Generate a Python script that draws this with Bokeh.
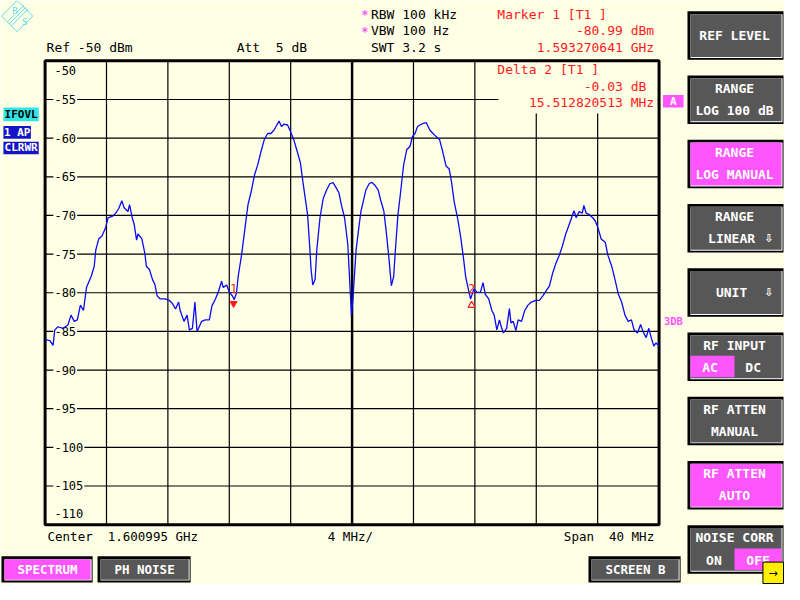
from bokeh.plotting import figure
from bokeh.models import Range1d
from bokeh.core.properties import value
from bokeh.embed import file_html
from bokeh.resources import INLINE

# ---------------- data (frequency offset from center in MHz, level in dBm) -------------
freq_mhz = [
    -20.0, -19.69, -19.48, -19.37, -19.16, -18.84, -18.52, -18.31, -18.1, -17.9,
    -17.7, -17.5, -17.3, -17.0, -16.8, -16.7, -16.5, -16.3, -16.06, -15.9,
    -15.6, -15.4, -15.2, -15.0, -14.85, -14.6, -14.5, -14.3, -14.2, -14.04,
    -13.95, -13.7, -13.5, -13.4, -13.2, -13.0, -12.85, -12.7, -12.5, -12.2,
    -11.9, -11.7, -11.5, -11.3, -11.2, -10.95, -10.75, -10.6, -10.4, -10.24,
    -10.1, -10.0, -9.8, -9.56, -9.3, -9.13, -8.9, -8.7, -8.5, -8.4,
    -8.17, -8.0, -7.8, -7.68, -7.53,
    -7.42, -7.2, -7.0, -6.78, -6.57, -6.36, -6.14, -5.93, -5.72, -5.5,
    -5.29, -5.08, -4.9, -4.76, -4.6, -4.44, -4.2, -4.0, -3.8, -3.58,
    -3.37, -3.2, -3.05, -2.9, -2.77, -2.67, -2.56, -2.41, -2.3, -2.09,
    -1.88, -1.66, -1.45, -1.24, -1.07, -0.85, -0.7, -0.49, -0.28, -0.17,
    -0.04, 0.04, 0.15, 0.26, 0.47, 0.58, 0.68, 0.9, 1.11, 1.28,
    1.49, 1.7, 1.86, 2.07, 2.22, 2.39, 2.56, 2.71, 2.82, 2.99,
    3.14, 3.35, 3.56, 3.78, 3.93, 4.1, 4.27, 4.42, 4.63, 4.84,
    5.06, 5.27, 5.48, 5.7, 5.9, 6.12, 6.33,
    6.48, 6.65, 6.87, 7.08, 7.25, 7.4, 7.57, 7.72, 7.94, 8.15,
    8.36, 8.53, 8.68, 8.9, 9.11, 9.26, 9.43, 9.6, 9.75, 9.86,
    10.07, 10.25, 10.35, 10.5, 10.67, 10.82, 11.04, 11.25, 11.46, 11.68,
    11.96, 12.2, 12.43, 12.64, 12.86, 13.07, 13.28, 13.5, 13.71, 13.92,
    14.14, 14.3, 14.46, 14.6, 14.8, 15.0, 15.1, 15.25, 15.46, 15.68,
    15.85, 16.02, 16.23, 16.5, 16.66, 16.92, 17.13, 17.35, 17.56, 17.78,
    17.99, 18.2, 18.37, 18.59, 18.8, 18.95, 19.16, 19.33, 19.49, 19.66,
    19.8, 20.0,
]
level_dbm = [
    -86.05, -86.2, -86.8, -84.8, -84.4, -84.6, -84.2, -82.9, -83.7, -83.5,
    -81.6, -82.3, -79.3, -77.9, -76.6, -74.5, -73.0, -72.7, -71.6, -70.3,
    -70.1, -69.7, -69.1, -68.1, -69.0, -69.5, -68.6, -70.5, -71.1, -73.2,
    -72.4, -73.0, -74.9, -76.6, -77.0, -78.3, -78.9, -80.4, -80.8, -80.8,
    -81.0, -81.4, -82.1, -81.2, -82.3, -83.7, -82.9, -84.8, -84.6, -81.2,
    -85.0, -84.6, -83.7, -83.5, -83.5, -81.7, -80.8, -79.8, -78.5, -79.3,
    -79.0, -79.9, -80.4, -80.9, -80.0,
    -77.9, -75.1, -72.0, -68.6, -66.9, -64.8, -63.4, -61.7, -60.2, -59.4,
    -59.4, -58.95, -58.3, -57.8, -58.5, -58.2, -58.3, -59.2, -60.2, -61.7,
    -63.15, -65.7, -67.8, -69.9, -73.7, -77.0, -79.0, -78.3, -74.5, -70.3,
    -67.8, -66.7, -65.9, -65.75, -66.3, -67.1, -68.6, -70.3, -73.7, -77.9,
    -82.9, -81.2, -77.9, -74.5, -71.1, -69.45, -68.6, -66.7, -65.9, -65.7,
    -66.1, -66.7, -68.0, -69.45, -72.0, -75.3, -79.1, -77.9, -74.5, -69.9,
    -67.35, -63.6, -61.5, -61.05, -59.8, -59.4, -58.5, -58.3, -58.1, -58.0,
    -58.95, -59.4, -59.8, -60.2, -61.7, -63.6, -64.0,
    -65.7, -68.2, -70.3, -72.85, -75.4, -77.9, -79.5, -80.8, -79.5, -79.95,
    -79.95, -78.7, -80.2, -80.8, -82.3, -82.9, -84.8, -83.5, -84.6, -85.2,
    -84.6, -82.05, -83.9, -83.7, -84.9, -83.5, -83.7, -82.3, -81.6, -81.2,
    -81.0, -81.0, -80.4, -79.75, -79.1, -77.45, -76.2, -75.15, -73.9, -72.4,
    -71.2, -70.3, -69.4, -70.3, -69.5, -69.7, -68.7, -69.7, -69.9, -70.3,
    -70.75, -71.6, -73.05, -73.5, -75.1, -76.6, -78.3, -80.2, -81.2, -82.9,
    -83.7, -83.5, -84.8, -85.2, -84.1, -85.0, -85.8, -84.6, -85.8, -86.9,
    -86.5, -86.9,
]
y_ticks = [-50, -55, -60, -65, -70, -75, -80, -85, -90, -95, -100, -105, -110]
x_ticks = [-16, -12, -8, -4, 0, 4, 8, 12, 16]
marker_freq = [-7.724, 7.788]
marker_level = [-80.99, -81.02]
marker_names = ["1", "2"]

# ---------------- layout ----------------
BG = "#FFFFE6"
RED = "#FF1A1A"
MAG = "#FF55FF"
GRAY = "#575757"
MONO = "DejaVu Sans Mono"
SP = "\u00a0"

W, H = 784, 584
PX_W, PX_H = 800, 600
X0, X1, Y0, Y1 = 45.5, 672.0, 62.0, 538.5
F0, F1 = -20.0, 20.0
D0, D1 = -50.0, -110.0
kx = (F1 - F0) / (X1 - X0)
ky = (D0 - D1) / (Y1 - Y0)

p = figure(width=W, height=H, x_range=Range1d(0, PX_W), y_range=Range1d(PX_H, 0),
           output_backend="svg", toolbar_location=None, min_border=0,
           x_axis_location=None, y_axis_location=None,
           background_fill_color=BG, border_fill_color=BG, outline_line_color=None)
p.grid.visible = False
p.extra_x_ranges = {"f": Range1d(F0 - X0 * kx, F1 + (PX_W - X1) * kx)}
p.extra_y_ranges = {"db": Range1d(D1 - (PX_H - Y1) * ky, D0 + Y0 * ky)}
FD = dict(x_range_name="f", y_range_name="db")


def txt(x, y, s, color="black", size=13, align="left", bold=False, font=MONO, **kw):
    p.text(x=[x], y=[y], text=[s.replace(" ", SP)], text_color=color, text_font=value(font),
           text_font_size=f"{size}px", text_align=align, text_baseline="middle",
           text_font_style="bold" if bold else "normal", **kw)


def box(x0, y0, x1, y1, color):
    p.quad(left=[x0], right=[x1], top=[y0], bottom=[y1], fill_color="black", line_color=None)
    p.quad(left=[x0 + 3], right=[x1 - 1], top=[y0 + 3], bottom=[y1 - 2], fill_color="white", line_color=None)
    p.quad(left=[x0 + 3], right=[x1 - 2], top=[y0 + 3], bottom=[y1 - 3], fill_color=color, line_color=None)


# ---------------- grid ----------------
vx = [v for v in x_ticks if v != 0]
p.segment(x0=vx, y0=[D1] * len(vx), x1=vx, y1=[D0] * len(vx), line_color="black", line_width=1.2, **FD)
p.segment(x0=[0], y0=[D1], x1=[0], y1=[D0], line_color="black", line_width=2.5, **FD)
hy = y_ticks[1:-1]
p.segment(x0=[F0] * len(hy), y0=hy, x1=[F1] * len(hy), y1=hy, line_color="black", line_width=1.2, **FD)
# area behind the delta marker readout
p.quad(left=[508], right=[670.5], top=[63.5], bottom=[116], fill_color=BG, line_color=None)
p.quad(left=[F0], right=[F1], top=[D0], bottom=[D1], fill_color=None, line_color="black", line_width=3, **FD)

# y tick labels, inside the plot area
p.text(x=[54] * len(y_ticks), y=y_ticks, text=[str(v) for v in y_ticks],
       y_offset=[10 if v == -50 else (-11 if v == -110 else 0) for v in y_ticks],
       y_range_name="db", text_color="black", text_font=value(MONO), text_font_size="12px",
       text_align="left", text_baseline="middle", background_fill_color=BG, padding=1)

# ---------------- trace & markers ----------------
p.line(freq_mhz, level_dbm, line_color="#0A0AF5", line_width=1.3, **FD)
p.scatter([marker_freq[0]], [marker_level[0] - 0.4], marker="inverted_triangle", size=7,
          fill_color=RED, line_color=RED, **FD)
p.scatter([marker_freq[1]], [marker_level[1] - 0.6], marker="triangle", size=7,
          fill_color=None, line_color=RED, line_width=1.3, **FD)
p.text(x=marker_freq, y=marker_level, text=marker_names, y_offset=-12,
       text_color=RED, text_font=value(MONO), text_font_size="12px",
       text_align="center", text_baseline="middle", **FD)

# ---------------- header texts ----------------
txt(47, 48, "Ref -50 dBm")
txt(241, 48, "Att  5 dB")
txt(368, 15, "*", color=MAG, size=12, bold=True)
txt(368, 32, "*", color=MAG, size=12, bold=True)
txt(378, 14, "RBW 100 kHz")
txt(378, 31, "VBW 100 Hz")
txt(378, 48, "SWT 3.2 s")
txt(507, 14, "Marker 1 [T1 ]", color=RED)
txt(667, 31, "-80.99 dBm", color=RED, align="right")
txt(667, 48, "1.593270641 GHz", color=RED, align="right")
txt(507, 71, "Delta 2 [T1 ]", color=RED)
txt(659, 88, "-0.03 dB", color=RED, align="right")
txt(667, 105, "15.512820513 MHz", color=RED, align="right")

txt(48, 551, "Center  1.600995 GHz", size=12.5)
txt(334, 551, "4 MHz/", size=12.5)
txt(667, 551, "Span  40 MHz", size=12.5, align="right")

# ---------------- logo ----------------
LC = "#66D9EE"
p.line([1, 17, 33, 17, 1], [16, 0, 16, 32, 16], line_color=LC, line_width=1)
p.segment(x0=[7, 9, 11], y0=[22, 24, 26], x1=[24, 26, 28], y1=[5, 7, 9], line_color=LC, line_width=1)
txt(12, 11, "R", color=LC, size=9)
txt(22, 22, "S", color=LC, size=9)

# ---------------- left status ----------------
p.quad(left=[3], right=[39], top=[110], bottom=[124], fill_color="#30E4E8", line_color=None)
txt(21, 117, "IFOVL", size=11, bold=True, align="center")
p.quad(left=[3], right=[31], top=[129], bottom=[142], fill_color="#1414C8", line_color=None)
txt(17, 135.5, "1 AP", color="white", size=11, bold=True, align="center")
p.quad(left=[3], right=[39], top=[145], bottom=[158], fill_color="#1414C8", line_color=None)
txt(21, 151.5, "CLRWR", color="white", size=11, bold=True, align="center")

# ---------------- right side labels ----------------
p.quad(left=[676], right=[697], top=[97], bottom=[110], fill_color=MAG, line_color=None)
txt(686.5, 103.5, "A", color="white", size=11, bold=True, align="center")
txt(677, 329, "3DB", color=MAG, size=10.5, bold=True)

# ---------------- softkeys ----------------
keys = [
    (["REF LEVEL"], GRAY),
    (["RANGE", "LOG 100 dB"], GRAY),
    (["RANGE", "LOG MANUAL"], MAG),
    (["RANGE", "LINEAR"], GRAY),
    (["UNIT"], GRAY),
    (["RF INPUT", ""], GRAY),
    (["RF ATTEN", "MANUAL"], GRAY),
    (["RF ATTEN", "AUTO"], MAG),
    (["NOISE CORR", ""], GRAY),
]
for i, (lines, col) in enumerate(keys):
    y0 = 11 + 66 * i
    box(701, y0, 799, y0 + 50, col)
    if len(lines) == 1:
        cx = 749 if lines[0] != "UNIT" else 746
        txt(cx, y0 + 25, lines[0], color="white", size=13, bold=True, align="center")
    else:
        txt(749, y0 + 13, lines[0], color="white", size=13, bold=True, align="center")
        if lines[1] == "LINEAR":
            txt(746, y0 + 36, lines[1], color="white", size=13, bold=True, align="center")
        elif lines[1]:
            txt(749, y0 + 36, lines[1], color="white", size=13, bold=True, align="center")

# arrows on RANGE LINEAR and UNIT
txt(784, 11 + 66 * 3 + 36, "⇩", color="white", size=11, bold=True, align="center", font="DejaVu Sans")
txt(784, 11 + 66 * 4 + 25, "⇩", color="white", size=11, bold=True, align="center", font="DejaVu Sans")
# RF INPUT AC / DC
yy = 11 + 66 * 5
p.quad(left=[704], right=[749], top=[yy + 24], bottom=[yy + 46], fill_color=MAG, line_color=None)
txt(724, yy + 36, "AC", color="white", size=13, bold=True, align="center")
txt(768, yy + 36, "DC", color="white", size=13, bold=True, align="center")
# NOISE CORR ON / OFF
yy = 11 + 66 * 8
p.quad(left=[749], right=[797], top=[yy + 24], bottom=[yy + 46], fill_color=MAG, line_color=None)
txt(728, yy + 36, "ON", color="white", size=13, bold=True, align="center")
txt(773, yy + 36, "OFF", color="white", size=13, bold=True, align="center")
p.quad(left=[778], right=[799], top=[577], bottom=[599], fill_color="#FFF000", line_color="black", line_width=1)
txt(788.5, 589, "→", color="black", size=11, align="center", font="DejaVu Sans")

# ---------------- bottom buttons ----------------
box(1, 571, 94, 598, MAG)
txt(48, 584.5, "SPECTRUM", color="white", size=12.5, bold=True, align="center")
box(99, 571, 194, 598, GRAY)
txt(147, 584.5, "PH NOISE", color="white", size=12.5, bold=True, align="center")
box(600, 571, 694, 598, GRAY)
txt(648, 584.5, "SCREEN B", color="white", size=12.5, bold=True, align="center")

open("out.html", "w").write(file_html(p, INLINE))
